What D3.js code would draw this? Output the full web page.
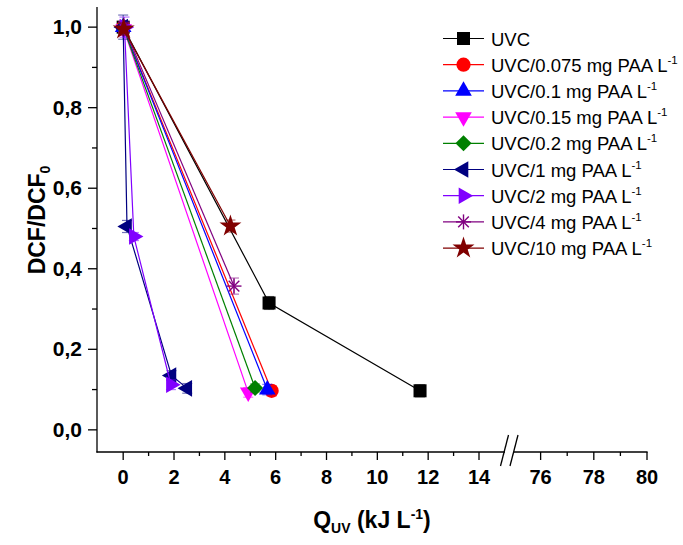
<!DOCTYPE html>
<html>
<head>
<meta charset="utf-8">
<script src="https://cdn.jsdelivr.net/npm/d3@7"></script>
<style>
  body { margin: 0; background: #fff; }
  svg { font-family: "Liberation Sans", Arial, sans-serif; }
</style>
</head>
<body>
<svg id="chart" width="683" height="545"></svg>
<script>
// series labels (legend), colours and marker kinds
var seriesNames = ["UVC", "UVC/0.075 mg PAA L", "UVC/0.1 mg PAA L", "UVC/0.15 mg PAA L",
  "UVC/0.2 mg PAA L", "UVC/1 mg PAA L", "UVC/2 mg PAA L", "UVC/4 mg PAA L", "UVC/10 mg PAA L"];
var seriesColors = ["#000000", "#ff0000", "#0000ff", "#ff00ff", "#008000", "#000080", "#8000ff", "#800080", "#800000"];
var seriesMarkers = ["square", "circle", "up", "down", "diamond", "left", "right", "asterisk", "star"];

// Q_UV (kJ/L), DCF/DCF0, error
var xUVC = [0, 5.74, 11.68],  yUVC = [1.0, 0.315, 0.097],  eUVC = [0.012, 0.016, 0.015];
var x0075 = [0, 5.84],         y0075 = [1.0, 0.097],        e0075 = [0.012, 0.013];
var x01 = [0, 5.67],           y01 = [1.0, 0.100],          e01 = [0.012, 0.013];
var x015 = [0.02, 4.92],       y015 = [0.995, 0.093],       e015 = [0.015, 0.012];
var x02 = [0, 5.19],           y02 = [1.0, 0.104],          e02 = [0.01, 0.01];
var x1 = [0, 0.15, 1.9, 2.52], y1 = [1.0, 0.505, 0.135, 0.103], e1 = [0.03, 0.015, 0.012, 0.012];
var x2 = [0.05, 0.42, 1.88],   y2 = [1.0, 0.48, 0.112],     e2 = [0.025, 0.01, 0.012];
var x4 = [0.03, 4.36],         y4 = [1.0, 0.357],           e4 = [0.012, 0.02];
var x10 = [0.02, 4.22],        y10 = [0.995, 0.506],        e10 = [0.015, 0.015];

var xs = [xUVC, x0075, x01, x015, x02, x1, x2, x4, x10];
var ys = [yUVC, y0075, y01, y015, y02, y1, y2, y4, y10];
var es = [eUVC, e0075, e01, e015, e02, e1, e2, e4, e10];

var xTicksMajor = [0, 2, 4, 6, 8, 10, 12, 14, 76, 78, 80];
var xTicksMinor = [1, 3, 5, 7, 9, 11, 13, 77, 79];
var yTicksMajor = [0, 0.2, 0.4, 0.6, 0.8, 1.0];
var yTicksMinor = [0.1, 0.3, 0.5, 0.7, 0.9];

var svg = d3.select("#chart");

// broken x axis: two linear pieces joined at the break
var x = d3.scaleLinear().domain([-1.03, 15.2, 74.83, 80]).range([97, 509.5, 509.5, 647]);
var y = d3.scaleLinear().domain([-0.055, 1.05]).range([452, 7]);

var fmt = function(v) { return d3.format(".1f")(v).replace(".", ","); };

// axes
var ax = svg.append("g").attr("stroke", "#000").attr("stroke-width", 1.3);
ax.append("line").attr("x1", 97).attr("x2", 97).attr("y1", y.range()[1]).attr("y2", 452.6);
ax.append("line").attr("x1", 96.4).attr("x2", 505).attr("y1", 452).attr("y2", 452);
ax.append("line").attr("x1", 514).attr("x2", 647.6).attr("y1", 452).attr("y2", 452);
// break marks
ax.append("line").attr("x1", 500.5).attr("y1", 466).attr("x2", 508.5).attr("y2", 435);
ax.append("line").attr("x1", 510).attr("y1", 466).attr("x2", 518).attr("y2", 435);

yTicksMajor.forEach(function(t) {
  ax.append("line").attr("x1", 88).attr("x2", 97).attr("y1", y(t)).attr("y2", y(t));
});
yTicksMinor.forEach(function(t) {
  ax.append("line").attr("x1", 92).attr("x2", 97).attr("y1", y(t)).attr("y2", y(t));
});
xTicksMajor.forEach(function(t) {
  ax.append("line").attr("x1", x(t)).attr("x2", x(t)).attr("y1", 452).attr("y2", 460);
});
xTicksMinor.forEach(function(t) {
  ax.append("line").attr("x1", x(t)).attr("x2", x(t)).attr("y1", 452).attr("y2", 456);
});

svg.append("g").selectAll("text").data(yTicksMajor).enter().append("text")
  .attr("x", 82).attr("y", function(d) { return y(d) + 7; })
  .attr("text-anchor", "end").attr("font-size", 21).attr("font-weight", "bold")
  .text(fmt);

svg.append("g").selectAll("text").data(xTicksMajor).enter().append("text")
  .attr("x", function(d) { return x(d); }).attr("y", 484)
  .attr("text-anchor", "middle").attr("font-size", 20).attr("font-weight", "bold")
  .text(function(d) { return d; });

// axis titles
var xt = svg.append("text").attr("x", 372).attr("y", 528).attr("text-anchor", "middle")
  .attr("font-size", 23).attr("font-weight", "bold");
xt.append("tspan").text("Q");
xt.append("tspan").attr("font-size", 14).attr("dy", 5).text("UV");
xt.append("tspan").attr("dy", -5).text(" (kJ L");
xt.append("tspan").attr("font-size", 14).attr("dy", -9).text("-1");
xt.append("tspan").attr("dy", 9).text(")");

var yt = svg.append("text").attr("transform", "translate(45,220) rotate(-90)")
  .attr("text-anchor", "middle").attr("font-size", 23).attr("font-weight", "bold");
yt.append("tspan").text("DCF/DCF");
yt.append("tspan").attr("font-size", 14).attr("dy", 5).text("0");

// marker drawing
function drawMarker(g, kind, color) {
  var sym;
  if (kind === "asterisk") {
    var r = 7.5;
    [0, 45, 90, 135].forEach(function(a) {
      var rad = a * Math.PI / 180;
      g.append("line")
        .attr("x1", -r * Math.cos(rad)).attr("y1", -r * Math.sin(rad))
        .attr("x2", r * Math.cos(rad)).attr("y2", r * Math.sin(rad))
        .attr("stroke", color).attr("stroke-width", 1.4);
    });
    return;
  }
  var rot = 0;
  if (kind === "square") sym = d3.symbol(d3.symbolSquare, 170);
  else if (kind === "circle") sym = d3.symbol(d3.symbolCircle, 160);
  else if (kind === "diamond") { sym = d3.symbol(d3.symbolSquare, 130); rot = 45; }
  else if (kind === "star") sym = d3.symbol(d3.symbolStar, 150);
  else {
    sym = d3.symbol(d3.symbolTriangle, 120);
    rot = { up: 0, down: 180, left: -90, right: 90 }[kind];
  }
  g.append("path").attr("d", sym()).attr("transform", "rotate(" + rot + ")").attr("fill", color);
}

// series
var plot = svg.append("g");
seriesNames.forEach(function(name, i) {
  var pts = xs[i].map(function(v, j) { return { x: v, y: ys[i][j], e: es[i][j] }; });
  var col = seriesColors[i];
  var g = plot.append("g");
  g.append("path").datum(pts)
    .attr("d", d3.line().x(function(d) { return x(d.x); }).y(function(d) { return y(d.y); }))
    .attr("fill", "none").attr("stroke", col).attr("stroke-width", 1.2);
  pts.forEach(function(p) {
    var eb = g.append("g").attr("stroke", col).attr("stroke-opacity", 0.55).attr("stroke-width", 1.2);
    eb.append("line").attr("x1", x(p.x)).attr("x2", x(p.x)).attr("y1", y(p.y - p.e)).attr("y2", y(p.y + p.e));
    [p.y - p.e, p.y + p.e].forEach(function(v) {
      eb.append("line").attr("x1", x(p.x) - 5).attr("x2", x(p.x) + 5).attr("y1", y(v)).attr("y2", y(v));
    });
    drawMarker(g.append("g").attr("transform", "translate(" + x(p.x) + "," + y(p.y) + ")"), seriesMarkers[i], col);
  });
});

// legend
var leg = svg.append("g");
seriesNames.forEach(function(name, i) {
  var ly = 38.5 + i * 26.2;
  var row = leg.append("g").attr("transform", "translate(0," + ly + ")");
  row.append("line").attr("x1", 443).attr("x2", 484).attr("y1", 0).attr("y2", 0)
    .attr("stroke", seriesColors[i]).attr("stroke-width", 1.2);
  drawMarker(row.append("g").attr("transform", "translate(463.5,0)"), seriesMarkers[i], seriesColors[i]);
  var t = row.append("text").attr("x", 491).attr("y", 7).attr("font-size", 18.5);
  t.append("tspan").text(name);
  if (i > 0) t.append("tspan").attr("font-size", 11.5).attr("dy", -8).text("-1");
});
</script>
</body>
</html>
